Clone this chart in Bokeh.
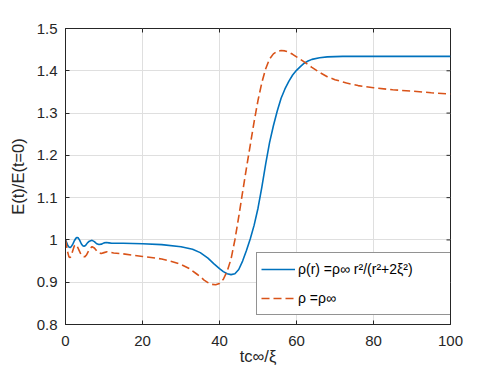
import math
from bokeh.plotting import figure
from bokeh.models import FixedTicker, Range1d, Legend, LegendItem
from bokeh.embed import file_html
from bokeh.resources import INLINE

# ---- data ----
t_a = [0, 0.3, 0.6, 0.9, 1.2, 1.5, 1.9, 2.3, 2.7, 3.0, 3.3, 3.7, 4.1, 4.5, 4.8, 5.2, 5.7,
       6.2, 6.9, 7.5, 8.1, 8.7, 9.3, 10.0, 10.6, 11.3, 12, 15, 20,
       25, 30, 33, 35, 37, 38.5, 40, 41, 42, 43, 44, 45, 46, 47, 48, 49, 50, 51, 52, 53,
       54, 55, 56, 57, 58, 59, 60, 61, 62, 63, 64, 66, 68, 72, 80, 100]
e_a = [1.000, 0.994, 0.987, 0.983, 0.982, 0.984, 0.990, 0.998, 1.004, 1.006, 1.005, 0.999,
       0.991, 0.986, 0.985, 0.987, 0.993, 0.997, 0.999, 0.996, 0.991, 0.989, 0.990, 0.993,
       0.994, 0.993, 0.992, 0.992, 0.991, 0.989, 0.984, 0.978, 0.970, 0.957, 0.944, 0.932,
       0.925, 0.920, 0.918, 0.920, 0.930, 0.950, 0.975, 1.003, 1.035, 1.075, 1.125, 1.180,
       1.230, 1.270, 1.305, 1.335, 1.357, 1.375, 1.390, 1.401, 1.410, 1.418, 1.423, 1.427,
       1.431, 1.433, 1.434, 1.434, 1.434]

t_b = [0, 0.3, 0.6, 0.9, 1.2, 1.5, 1.9, 2.3, 2.6, 3.0, 3.5, 4.0, 4.5, 5.0, 5.5, 6.0, 6.5,
       6.9, 7.5, 8.2, 8.8, 9.3, 10.0, 10.8, 11.5, 12.5, 15, 20, 25,
       28, 30, 32, 34, 35, 36, 37, 38, 39, 40, 41, 42, 43, 44, 45, 46, 47, 48, 49, 50, 51,
       52, 53, 54, 55, 56, 57, 58, 59, 60, 62, 64, 66, 68, 70, 73, 76, 80, 85, 90, 95, 100]
e_b = [1.000, 0.985, 0.970, 0.960, 0.958, 0.963, 0.975, 0.986, 0.989, 0.986, 0.976, 0.966,
       0.961, 0.960, 0.965, 0.974, 0.981, 0.984, 0.981, 0.973, 0.969, 0.968, 0.970, 0.972,
       0.971, 0.969, 0.967, 0.961, 0.955, 0.948, 0.942, 0.933, 0.920, 0.913, 0.905,
       0.899, 0.895, 0.894, 0.897, 0.907, 0.926, 0.955, 1.000, 1.055, 1.113, 1.170, 1.225,
       1.280, 1.330, 1.372, 1.405, 1.428, 1.440, 1.446, 1.448, 1.447, 1.444, 1.439, 1.433,
       1.421, 1.408, 1.396, 1.386, 1.379, 1.371, 1.365, 1.360, 1.355, 1.352, 1.348, 1.345]

label_a = "\u03c1(r) =\u03c1\u221e r\u00b2/(r\u00b2+2\u03be\u00b2)"
label_b = "\u03c1 =\u03c1\u221e"

xticks = [0, 20, 40, 60, 80, 100]
yticks = [0.8, 0.9, 1.0, 1.1, 1.2, 1.3, 1.4, 1.5]
ytick_labels = ["0.8", "0.9", "1", "1.1", "1.2", "1.3", "1.4", "1.5"]
x_label = "tc\u221e/\u03be"
y_label = "E(t)/E(t=0)"
x_lo, x_hi = 0, 100
y_lo, y_hi = 0.8, 1.5

# ---- styling ----
FONT = "Liberation Sans"
AX = "#262626"
GRID = "#dfdfdf"
BLUE = "#0072BD"
RED = "#D95319"

p = figure(width=498, height=376, output_backend="svg", toolbar_location=None,
           x_range=Range1d(x_lo, x_hi), y_range=Range1d(y_lo, y_hi),
           min_border_left=65, min_border_right=48, min_border_top=28, min_border_bottom=52)
p.background_fill_color = "white"
p.border_fill_color = "white"
p.outline_line_color = AX
p.outline_line_width = 1

xt = FixedTicker(ticks=xticks)
yt = FixedTicker(ticks=yticks)

for ax in (p.xaxis[0], p.yaxis[0]):
    ax.axis_line_color = AX
    ax.major_tick_line_color = AX
    ax.major_tick_in = 4
    ax.major_tick_out = 0
    ax.minor_tick_line_color = None
    ax.major_label_text_font = FONT
    ax.major_label_text_font_size = "15px"
    ax.major_label_text_color = AX
    ax.axis_label_text_font = FONT
    ax.axis_label_text_font_size = "16.5px"
    ax.axis_label_text_font_style = "normal"
    ax.axis_label_text_color = AX

p.xaxis[0].ticker = xt
p.yaxis[0].ticker = yt
p.yaxis[0].major_label_overrides = {v: s for v, s in zip(yticks, ytick_labels)}
p.xaxis[0].axis_label = x_label
p.yaxis[0].axis_label = y_label
p.xaxis[0].major_label_standoff = 11
p.yaxis[0].major_label_standoff = 8
p.xaxis[0].axis_label_standoff = -2
p.yaxis[0].axis_label_standoff = 7

p.xgrid.ticker = xt
p.ygrid.ticker = yt
p.xgrid.grid_line_color = GRID
p.ygrid.grid_line_color = GRID

# inward ticks on the top and right edges (box on); markers are clipped by the frame
p.scatter(xticks, [y_hi] * len(xticks), marker="dash", angle=math.pi / 2, size=8,
          line_color=AX, line_width=1)
p.scatter([x_hi] * len(yticks), yticks, marker="dash", size=8, line_color=AX, line_width=1)

ra = p.line(t_a, e_a, line_color=BLUE, line_width=1.6)
rb = p.line(t_b, e_b, line_color=RED, line_width=1.6, line_dash="8 4")

legend = Legend(items=[LegendItem(label=label_a, renderers=[ra]),
                       LegendItem(label=label_b, renderers=[rb])],
                location=(191, 9))
legend.label_text_font = FONT
legend.label_text_font_size = "14px"
legend.label_text_color = "black"
legend.border_line_color = AX
legend.border_line_width = 1
legend.background_fill_color = "white"
legend.background_fill_alpha = 1
legend.padding = 4
legend.spacing = 5
legend.margin = 0
legend.glyph_width = 34
legend.glyph_height = 24
legend.label_height = 24
legend.label_standoff = 3
legend.label_width = 150
p.add_layout(legend, "center")

open("out.html", "w").write(file_html(p, INLINE))
